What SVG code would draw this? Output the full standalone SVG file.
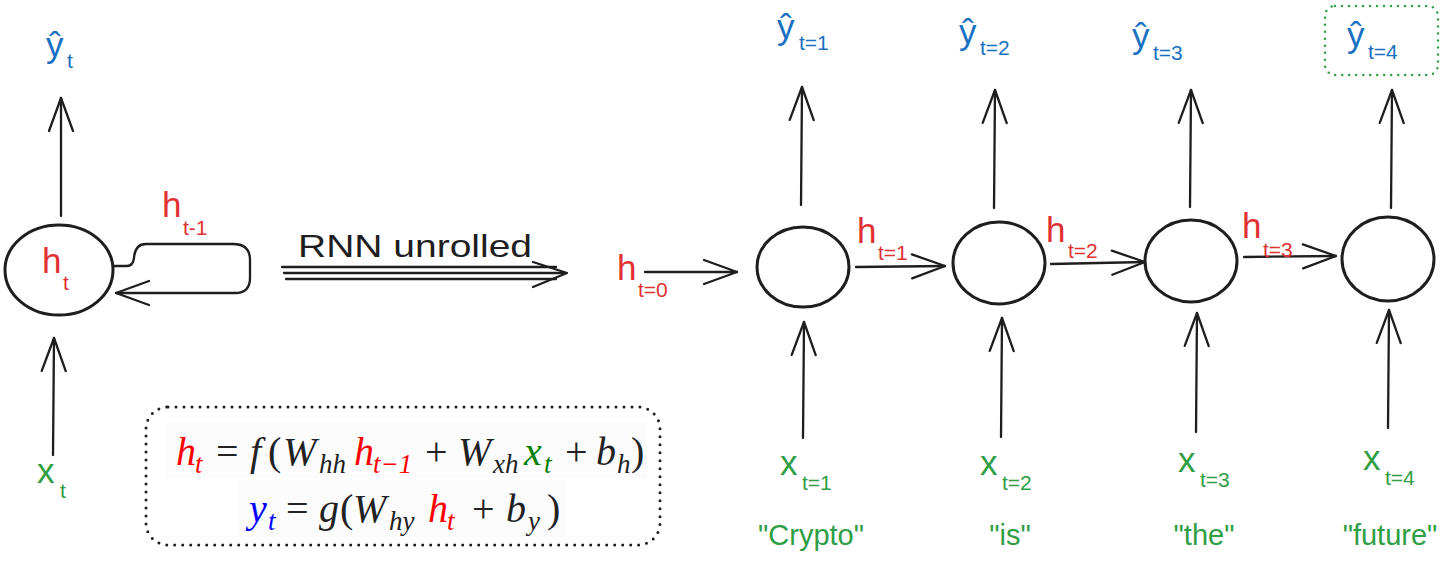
<svg xmlns="http://www.w3.org/2000/svg" width="1450" height="561" viewBox="0 0 1450 561">
<style>
.node{fill:none;stroke:#1e1e1e;stroke-width:3}
.conn path{fill:none;stroke:#1e1e1e;stroke-width:2.3;stroke-linecap:round;stroke-linejoin:round}
.hw{font-family:"Liberation Sans","Noto Sans",sans-serif}
.big{font-size:35px}
.sub{font-size:21px}
.blue{fill:#1971c2}
.red{fill:#e03131}
.green{fill:#2f9e44}
.math{font-family:"Liberation Serif","DejaVu Serif",serif;font-size:40px;fill:#222}
.mi{font-style:italic}
.ms{font-size:27px;font-style:italic}
</style>
<defs>
<marker id="ah" markerUnits="userSpaceOnUse" markerWidth="40" markerHeight="30" refX="36" refY="15" orient="auto" viewBox="0 0 40 30">
<path d="M3,3 L36,15 L3,27" fill="none" stroke="#1e1e1e" stroke-width="2.3" stroke-linecap="round" stroke-linejoin="round"/>
</marker>
</defs>
<rect width="1450" height="561" fill="#ffffff"/>

<g id="connectors" class="conn">
<path d="M61,216 L61,98" marker-end="url(#ah)"/>
<path d="M53,455 L54,338" marker-end="url(#ah)"/>
<path d="M113,266 H127 Q133,266 134,258 Q135,244 146,244 H233 Q250,244 250,260 V278 Q250,293 235,293 H116" marker-end="url(#ah)"/>
<path d="M282,267 H556"/>
<path d="M284,273 H565"/>
<path d="M286,279 H556"/>
<path d="M533,262 L567,273 L533,287"/>
<path d="M645,272 L737,272" marker-end="url(#ah)"/>
<path d="M856,267 L945,266" marker-end="url(#ah)"/>
<path d="M1051,264 L1145,262" marker-end="url(#ah)"/>
<path d="M1244,257 L1336,256" marker-end="url(#ah)"/>
<path d="M801,205 L802,87" marker-end="url(#ah)"/>
<path d="M994,208 L995,90" marker-end="url(#ah)"/>
<path d="M1190,207 L1191,90" marker-end="url(#ah)"/>
<path d="M1391,208 L1392,90" marker-end="url(#ah)"/>
<path d="M803,438 L804,322" marker-end="url(#ah)"/>
<path d="M1001,437 L1002,318" marker-end="url(#ah)"/>
<path d="M1196,432 L1197,313" marker-end="url(#ah)"/>
<path d="M1388,428 L1389,310" marker-end="url(#ah)"/>
</g>

<g id="rnn-cell">
<ellipse class="node" cx="59" cy="270" rx="54" ry="45"/>
<text class="hw red"><tspan class="big" x="42" y="273">h</tspan><tspan class="sub" x="63" y="290">t</tspan></text>
</g>
<g id="label-yhat-t"><text class="hw blue"><tspan class="big" x="46" y="57">ŷ</tspan><tspan class="sub" x="67" y="68">t</tspan></text></g>
<g id="label-x-t"><text class="hw green"><tspan class="big" x="37" y="483">x</tspan><tspan class="sub" x="60" y="498">t</tspan></text></g>
<g id="label-h-t-1"><text class="hw red"><tspan class="big" x="162" y="217">h</tspan><tspan class="sub" x="183" y="235">t-1</tspan></text></g>

<g id="label-unrolled"><text class="hw" x="298" y="257" font-size="32" fill="#1e1e1e" textLength="234" lengthAdjust="spacingAndGlyphs">RNN unrolled</text></g>

<g id="formula">
<rect x="146" y="407" width="514" height="138" rx="22" fill="none" stroke="#1e1e1e" stroke-width="3" stroke-dasharray="0 8" stroke-linecap="round"/>
<rect x="165" y="422" width="482" height="56" fill="#fcfcfc"/>
<rect x="237" y="480" width="330" height="57" fill="#fcfcfc"/>
<text class="math"><tspan class="mi" x="176" y="465" fill="#ff0000">h</tspan><tspan class="ms" x="195" y="473" fill="#ff0000">t</tspan><tspan x="216" y="465">=</tspan><tspan class="mi" x="250" y="465">f</tspan><tspan x="268" y="465">(</tspan><tspan class="mi" x="283" y="465">W</tspan><tspan class="ms" x="319" y="473">hh</tspan><tspan class="mi" x="354" y="465" fill="#ff0000">h</tspan><tspan class="ms" x="373" y="473" fill="#ff0000">t−1</tspan><tspan x="425" y="465">+</tspan><tspan class="mi" x="458" y="465">W</tspan><tspan class="ms" x="493" y="473">xh</tspan><tspan class="mi" x="524" y="465" fill="#008000">x</tspan><tspan class="ms" x="544" y="473" fill="#008000">t</tspan><tspan x="565" y="465">+</tspan><tspan class="mi" x="596" y="465">b</tspan><tspan class="ms" x="617" y="473">h</tspan><tspan x="631" y="465">)</tspan></text>
<text class="math"><tspan class="mi" x="249" y="522" fill="#0000ff">y</tspan><tspan class="ms" x="268" y="530" fill="#0000ff">t</tspan><tspan x="286" y="522">=</tspan><tspan class="mi" x="319" y="522">g</tspan><tspan x="340" y="522">(</tspan><tspan class="mi" x="353" y="522">W</tspan><tspan class="ms" x="389" y="530">hy</tspan><tspan class="mi" x="428" y="522" fill="#ff0000">h</tspan><tspan class="ms" x="447" y="530" fill="#ff0000">t</tspan><tspan x="472" y="522">+</tspan><tspan class="mi" x="506" y="522">b</tspan><tspan class="ms" x="528" y="530">y</tspan><tspan x="547" y="522">)</tspan></text>
</g>

<g id="label-h-t0"><text class="hw red"><tspan class="big" x="617" y="280">h</tspan><tspan class="sub" x="638" y="297">t=0</tspan></text></g>

<g id="node-t1">
<ellipse class="node" cx="803" cy="267" rx="46" ry="40"/>
</g>
<g id="node-t2">
<ellipse class="node" cx="999" cy="263" rx="46" ry="41"/>
</g>
<g id="node-t3">
<ellipse class="node" cx="1191" cy="261" rx="46" ry="41"/>
</g>
<g id="node-t4">
<ellipse class="node" cx="1388" cy="259" rx="46" ry="42"/>
</g>

<g id="label-h-t1"><text class="hw red"><tspan class="big" x="857" y="243">h</tspan><tspan class="sub" x="878" y="260">t=1</tspan></text></g>
<g id="label-h-t2"><text class="hw red"><tspan class="big" x="1046" y="242">h</tspan><tspan class="sub" x="1068" y="258">t=2</tspan></text></g>
<g id="label-h-t3"><text class="hw red"><tspan class="big" x="1242" y="238">h</tspan><tspan class="sub" x="1263" y="257">t=3</tspan></text></g>

<g id="label-yhat-t1"><text class="hw blue"><tspan class="big" x="777" y="39">ŷ</tspan><tspan class="sub" x="799" y="50">t=1</tspan></text></g>
<g id="label-yhat-t2"><text class="hw blue"><tspan class="big" x="959" y="44">ŷ</tspan><tspan class="sub" x="980" y="55">t=2</tspan></text></g>
<g id="label-yhat-t3"><text class="hw blue"><tspan class="big" x="1132" y="48">ŷ</tspan><tspan class="sub" x="1153" y="60">t=3</tspan></text></g>
<g id="label-yhat-t4">
<rect x="1325" y="6" width="113" height="69" rx="10" fill="none" stroke="#2f9e44" stroke-width="2.5" stroke-dasharray="0 7" stroke-linecap="round"/>
<text class="hw blue"><tspan class="big" x="1347" y="47">ŷ</tspan><tspan class="sub" x="1368" y="59">t=4</tspan></text>
</g>

<g id="label-x-t1"><text class="hw green"><tspan class="big" x="780" y="475">x</tspan><tspan class="sub" x="802" y="490">t=1</tspan></text></g>
<g id="label-x-t2"><text class="hw green"><tspan class="big" x="980" y="475">x</tspan><tspan class="sub" x="1002" y="490">t=2</tspan></text></g>
<g id="label-x-t3"><text class="hw green"><tspan class="big" x="1178" y="472">x</tspan><tspan class="sub" x="1200" y="487">t=3</tspan></text></g>
<g id="label-x-t4"><text class="hw green"><tspan class="big" x="1363" y="470">x</tspan><tspan class="sub" x="1385" y="485">t=4</tspan></text></g>

<g id="word-1"><text class="hw green" x="811" y="545" font-size="29" text-anchor="middle">"Crypto"</text></g>
<g id="word-2"><text class="hw green" x="1010" y="545" font-size="29" text-anchor="middle">"is"</text></g>
<g id="word-3"><text class="hw green" x="1204" y="545" font-size="29" text-anchor="middle">"the"</text></g>
<g id="word-4"><text class="hw green" x="1390" y="545" font-size="29" text-anchor="middle">"future"</text></g>
</svg>
